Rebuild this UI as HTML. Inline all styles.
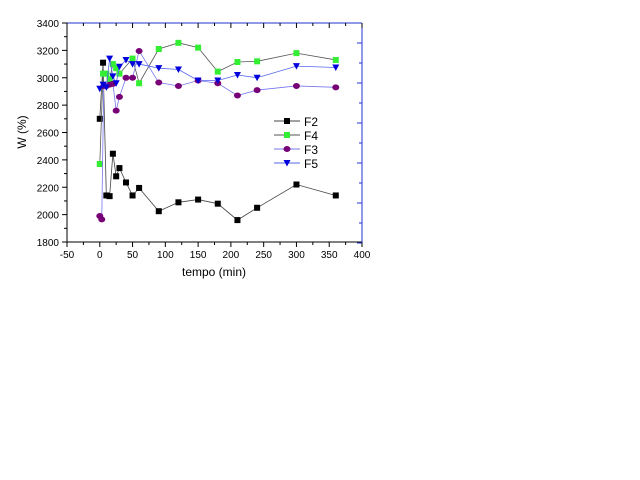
<!DOCTYPE html><html><head><style>body{margin:0;background:#fff}svg{display:block}text{font-family:"Liberation Sans",sans-serif}</style></head><body>
<svg id="s" width="640" height="480" xmlns="http://www.w3.org/2000/svg"></svg>
<script>
const s=document.getElementById('s');
const X=v=>67+(v+50)*295/450, Y=v=>242-(v-1800)*219/1600;
let h='';
// axes
h+=`<line x1="67" y1="242" x2="362" y2="242" stroke="#000"/>`;
h+=`<line x1="67" y1="23" x2="67" y2="242" stroke="#000"/>`;
h+=`<line x1="67" y1="23" x2="362" y2="23" stroke="#2233cc"/>`;
h+=`<line x1="362" y1="23" x2="362" y2="242" stroke="#2233cc"/>`;
for(let v=-50;v<=400;v+=25){const x=X(v),maj=(v%50==0);h+=`<line x1="${x}" y1="242" x2="${x}" y2="${242+(maj?5:3)}" stroke="#000"/><line x1="${x}" y1="23" x2="${x}" y2="${23+(maj?5:3)}" stroke="#000"/>`;if(maj)h+=`<text x="${x}" y="258" font-size="10" text-anchor="middle">${v}</text>`;}
for(let v=1800;v<=3400;v+=100){const y=Y(v),maj=(v%200==0);h+=`<line x1="67" y1="${y}" x2="${67-(maj?5:3)}" y2="${y}" stroke="#000"/>`;if(maj)h+=`<text x="59" y="${y+4}" font-size="10" text-anchor="end">${v}</text>`;}
for(let i=0;i<=10;i++){const y=243-i*20;h+=`<line x1="362" y1="${y}" x2="${362-(i%2?3:5)}" y2="${y}" stroke="#2233cc"/>`;}
h+=`<text x="214" y="276" font-size="12" text-anchor="middle">tempo (min)</text>`;
h+=`<text x="0" y="0" font-size="12" text-anchor="middle" transform="translate(26,132) rotate(-90)">W (%)</text>`;
const F2=[[0,2700],[5,3110],[10,2140],[15,2135],[20,2445],[25,2280],[30,2340],[40,2235],[50,2140],[60,2195],[90,2025],[120,2090],[150,2110],[180,2080],[210,1960],[240,2050],[300,2220],[360,2140]];
const F4=[[0,2370],[5,3030],[10,3030],[15,2990],[20,3100],[25,3070],[30,3030],[50,3140],[60,2960],[90,3210],[120,3255],[150,3220],[180,3045],[210,3115],[240,3120],[300,3180],[360,3130]];
const F3=[[0,1990],[3,1965],[6,2940],[10,2940],[15,2950],[20,2955],[25,2760],[30,2860],[40,3000],[50,3000],[60,3195],[90,2965],[120,2940],[150,2980],[180,2960],[210,2870],[240,2910],[300,2940],[360,2930]];
const F5=[[0,2920],[5,2950],[10,2930],[15,3140],[20,3010],[25,2960],[30,3080],[40,3130],[50,3100],[60,3100],[90,3070],[120,3060],[150,2980],[180,2980],[210,3020],[240,3000],[300,3085],[360,3075]];
function mk(t,x,y,c){if(t=='s')return `<rect x="${x-3}" y="${y-3}" width="6" height="6" fill="${c}"/>`;if(t=='c')return `<ellipse cx="${x}" cy="${y}" rx="3.5" ry="3" fill="${c}"/>`;return `<polygon points="${x-3.5},${y-3} ${x+3.5},${y-3} ${x},${y+3.5}" fill="${c}"/>`;}
function ser(d,lc,t,mc){h+=`<polyline fill="none" stroke="${lc}" stroke-width="0.8" points="${d.map(p=>X(p[0])+','+Y(p[1])).join(' ')}"/>`;d.forEach(p=>h+=mk(t,X(p[0]),Y(p[1]),mc));}
ser(F2,'#444','s','#000');ser(F4,'#555','s','#33ee33');ser(F3,'#7777ee','c','#770077');ser(F5,'#5566ee','v','#0000dd');
const L=[['F2','#444','s','#000'],['F4','#555','s','#33ee33'],['F3','#7777ee','c','#770077'],['F5','#5566ee','v','#0000dd']];
L.forEach((l,i)=>{const y=121+i*14;h+=`<line x1="274" y1="${y}" x2="300" y2="${y}" stroke="${l[1]}"/>`+mk(l[2],287,y,l[3])+`<text x="304" y="${y+5}" font-size="12">${l[0]}</text>`;});
s.innerHTML=h;
</script></body></html>
